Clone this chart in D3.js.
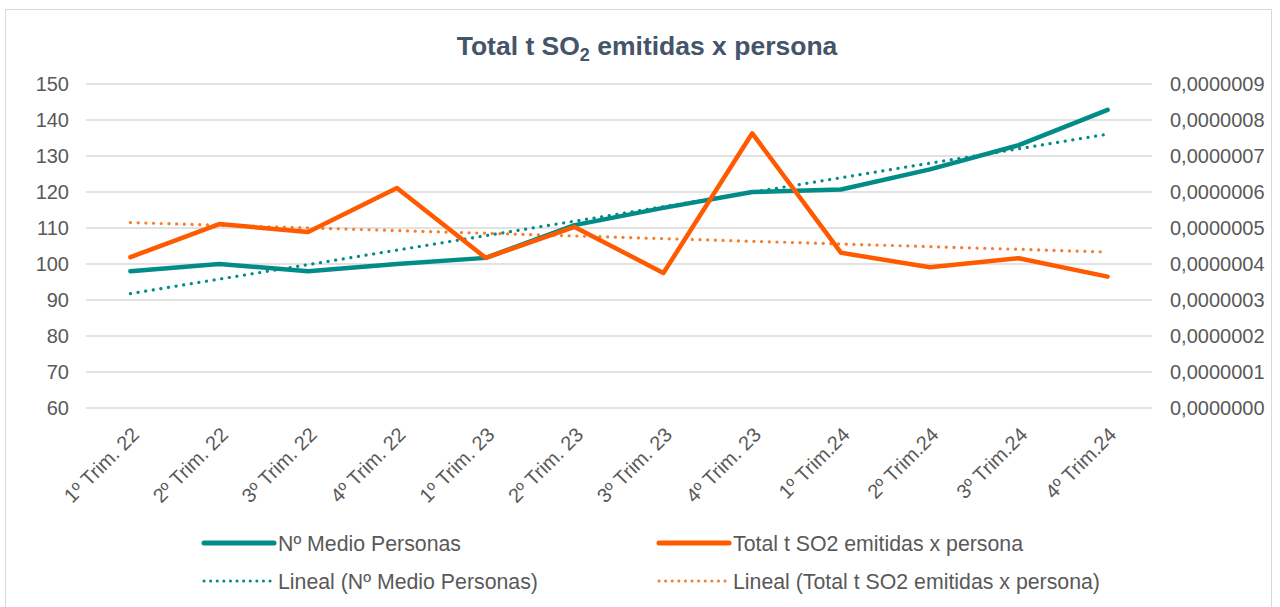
<!DOCTYPE html>
<html>
<head>
<meta charset="utf-8">
<script src="https://cdn.jsdelivr.net/npm/d3@7"></script>
<style>
  body { margin: 0; background: #fff; }
  svg text { font-family: "Liberation Sans", Arial, sans-serif; }
</style>
</head>
<body>
<svg id="chart" width="1280" height="607"></svg>
<script>
// data
var trimestres = ["1º Trim. 22", "2º Trim. 22", "3º Trim. 22", "4º Trim. 22",
                  "1º Trim. 23", "2º Trim. 23", "3º Trim. 23", "4º Trim. 23",
                  "1º Trim.24", "2º Trim.24", "3º Trim.24", "4º Trim.24"]
var personas = [98, 100, 98, 100, 101.7, 110.8, 115.6, 120, 120.7, 126.3, 133, 142.8]
var so2PorPersona = [4.19e-7, 5.11e-7, 4.89e-7, 6.11e-7, 4.17e-7, 5.03e-7,
                     3.75e-7, 7.63e-7, 4.31e-7, 3.91e-7, 4.16e-7, 3.65e-7]
var leftTicks = [60, 70, 80, 90, 100, 110, 120, 130, 140, 150]
var rightTicks = [0, 1e-7, 2e-7, 3e-7, 4e-7, 5e-7, 6e-7, 7e-7, 8e-7, 9e-7]

var teal = "#028C87", orange = "#FF5A00", orangeTrend = "#F47F2E"
var textColor = "#595959"

var svg = d3.select("#chart")
var plotLeft = 86, plotRight = 1152, plotTop = 84, plotBottom = 408

// chart frame
svg.append("rect").attr("x", 5.5).attr("y", 9.5).attr("width", 1266).attr("height", 610)
   .attr("fill", "none").attr("stroke", "#d9d9d9")

var x = d3.scalePoint().domain(trimestres).range([plotLeft, plotRight]).padding(0.5)
var yL = d3.scaleLinear().domain([60, 150]).range([plotBottom, plotTop])
var yR = d3.scaleLinear().domain([0, 9e-7]).range([plotBottom, plotTop])

// gridlines
svg.append("g").selectAll("line").data(leftTicks).join("line")
   .attr("x1", plotLeft).attr("x2", plotRight)
   .attr("y1", d => yL(d)).attr("y2", d => yL(d))
   .attr("stroke", "#d9d9d9").attr("stroke-width", 1.5)

// left axis
var axL = svg.append("g").attr("transform", "translate(" + plotLeft + ",0)")
   .call(d3.axisLeft(yL).tickValues(leftTicks).tickSize(0).tickPadding(17))
axL.select(".domain").remove()
axL.selectAll("text").attr("font-size", 20).attr("fill", textColor)
   .style("font-family", "Liberation Sans, Arial, sans-serif")

// right axis
var fmtR = d => d3.format(".7f")(d).replace(".", ",")
var axR = svg.append("g").attr("transform", "translate(" + plotRight + ",0)")
   .call(d3.axisRight(yR).tickValues(rightTicks).tickFormat(fmtR).tickSize(0).tickPadding(18))
axR.select(".domain").remove()
axR.selectAll("text").attr("font-size", 20).attr("fill", textColor)
   .style("font-family", "Liberation Sans, Arial, sans-serif")

// x labels
svg.append("g").selectAll("text").data(trimestres).join("text")
   .attr("transform", d => "translate(" + (x(d) + 10) + ",436) rotate(-45)")
   .attr("text-anchor", "end")
   .attr("font-size", 20).attr("fill", textColor)
   .text(d => d)

// linear trend like Excel "Lineal"
function trend(vals) {
    var n = vals.length, mx = (n - 1) / 2, my = d3.mean(vals)
    var sxy = 0, sxx = 0
    vals.forEach((v, i) => { sxy += (i - mx) * (v - my); sxx += (i - mx) * (i - mx) })
    var b = sxy / sxx, a = my - b * mx
    return vals.map((v, i) => a + b * i)
}

var lineL = d3.line().x((d, i) => x(trimestres[i])).y(d => yL(d))
var lineR = d3.line().x((d, i) => x(trimestres[i])).y(d => yR(d))

svg.append("path").datum(trend(so2PorPersona)).attr("d", lineR)
   .attr("fill", "none").attr("stroke", orangeTrend).attr("stroke-width", 3.2)
   .attr("stroke-linecap", "round").attr("stroke-dasharray", "0.1 7.6")
svg.append("path").datum(trend(personas)).attr("d", lineL)
   .attr("fill", "none").attr("stroke", teal).attr("stroke-width", 3.2)
   .attr("stroke-linecap", "round").attr("stroke-dasharray", "0.1 7.6")

svg.append("path").datum(personas).attr("d", lineL)
   .attr("fill", "none").attr("stroke", teal).attr("stroke-width", 4.5)
   .attr("stroke-linecap", "round").attr("stroke-linejoin", "round")
svg.append("path").datum(so2PorPersona).attr("d", lineR)
   .attr("fill", "none").attr("stroke", orange).attr("stroke-width", 4.5)
   .attr("stroke-linecap", "round").attr("stroke-linejoin", "round")

// title
var title = svg.append("text").attr("x", 647).attr("y", 55).attr("text-anchor", "middle")
   .attr("font-size", 26.5).attr("font-weight", "bold").attr("fill", "#44546A")
title.append("tspan").text("Total t SO")
title.append("tspan").attr("font-size", 18).attr("dy", 6).text("2")
title.append("tspan").attr("dy", -6).text(" emitidas x persona")

// legend
var legend = [
    {name: "Nº Medio Personas", color: teal, dotted: false, x: 202, y: 543},
    {name: "Total t SO2 emitidas x persona", color: orange, dotted: false, x: 657, y: 543},
    {name: "Lineal (Nº Medio Personas)", color: teal, dotted: true, x: 202, y: 581},
    {name: "Lineal (Total t SO2 emitidas x persona)", color: orangeTrend, dotted: true, x: 657, y: 581}
]
var lg = svg.append("g").selectAll("g").data(legend).join("g")
   .attr("transform", d => "translate(" + d.x + "," + d.y + ")")
lg.append("line").attr("x1", 2).attr("x2", 72).attr("y1", 0).attr("y2", 0)
   .attr("stroke", d => d.color)
   .attr("stroke-width", d => d.dotted ? 3 : 5)
   .attr("stroke-linecap", "round")
   .attr("stroke-dasharray", d => d.dotted ? "0.1 6.5" : null)
lg.append("text").attr("x", 76).attr("y", 7.5).attr("font-size", 21.3).attr("fill", textColor)
   .text(d => d.name)
</script>
</body>
</html>
